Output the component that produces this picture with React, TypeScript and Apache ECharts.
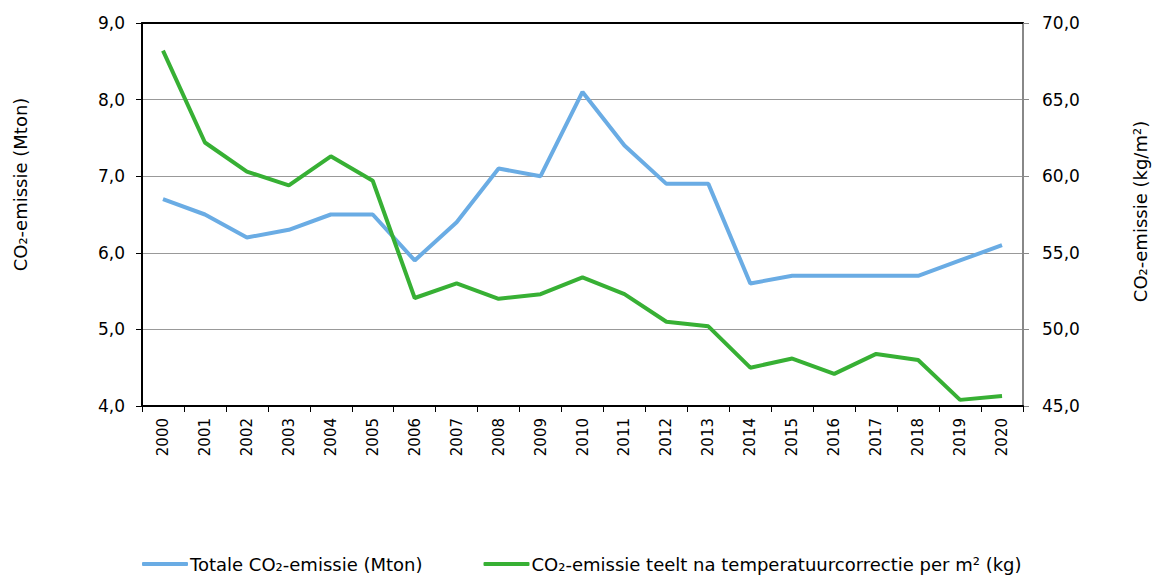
import React, { useEffect, useRef } from "react";
import * as echarts from "echarts";

const years = ["2000","2001","2002","2003","2004","2005","2006","2007","2008","2009","2010","2011","2012","2013","2014","2015","2016","2017","2018","2019","2020"];
const totalMton = [6.7, 6.5, 6.2, 6.3, 6.5, 6.5, 5.9, 6.4, 7.1, 7.0, 8.1, 7.4, 6.9, 6.9, 5.6, 5.7, 5.7, 5.7, 5.7, 5.9, 6.1];
const perM2 = [68.2, 62.2, 60.3, 59.4, 61.3, 59.7, 52.05, 53.0, 52.0, 52.3, 53.4, 52.3, 50.5, 50.2, 47.5, 48.1, 47.1, 48.4, 48.0, 45.4, 45.65];
const seriesNames = ["Totale CO₂-emissie (Mton)", "CO₂-emissie teelt na temperatuurcorrectie per m² (kg)"];
const leftAxisName = "CO₂-emissie (Mton)";
const rightAxisName = "CO₂-emissie (kg/m²)";

const FONT = "Verdana, 'DejaVu Sans', sans-serif";

export default function App() {
  const ref = useRef<HTMLDivElement>(null);
  useEffect(() => {
    if (!ref.current) return;
    document.body.style.margin = "0";
    const chart = echarts.init(ref.current, undefined, { renderer: "svg" });
    const fmt = (v: number) => v.toFixed(1).replace(".", ",");
    chart.setOption({
      animation: false,
      textStyle: { fontFamily: FONT },
      grid: { left: 142, right: 130, top: 23, bottom: 170, containLabel: false, outerBoundsMode: "none" },
      legend: {
        top: 555,
        left: 142,
        padding: 0,
        itemGap: 61,
        itemWidth: 46,
        itemHeight: 4,
        icon: "roundRect",
        textStyle: { fontFamily: FONT, fontSize: 18, color: "#000", padding: [0, 0, 0, -3] },
        data: seriesNames,
      },
      xAxis: [
        {
          type: "category",
          data: years,
          boundaryGap: true,
          axisLine: { lineStyle: { color: "#000", width: 2 } },
          axisTick: { show: true, alignWithLabel: false, length: 6, lineStyle: { color: "#000", width: 1 } },
          axisLabel: { rotate: 90, color: "#000", fontSize: 15, fontFamily: FONT, margin: 12, interval: 0 },
        },
        {
          type: "category",
          data: years,
          position: "top",
          axisLine: { lineStyle: { color: "#000", width: 2 } },
          axisTick: { show: false },
          axisLabel: { show: false },
        },
      ],
      yAxis: [
        {
          type: "value",
          min: 4,
          max: 9,
          interval: 1,
          name: leftAxisName,
          nameLocation: "middle",
          nameGap: 113,
          nameTextStyle: { color: "#000", fontSize: 18, fontFamily: FONT, padding: [0, 0, 0, 60] },
          axisLine: { show: true, lineStyle: { color: "#000", width: 2 } },
          axisTick: { show: true, length: 6, lineStyle: { color: "#000" } },
          axisLabel: { color: "#000", fontSize: 17, formatter: fmt, margin: 17 },
          splitLine: { lineStyle: { color: "#999", width: 1 } },
        },
        {
          type: "value",
          min: 45,
          max: 70,
          interval: 5,
          name: rightAxisName,
          nameLocation: "middle",
          nameGap: 108,
          nameRotate: 90,
          nameTextStyle: { color: "#000", fontSize: 18, fontFamily: FONT, padding: [0, 0, 0, 6] },
          axisLine: { show: true, lineStyle: { color: "#888", width: 2 } },
          axisTick: { show: true, length: 6, lineStyle: { color: "#888" } },
          axisLabel: { color: "#000", fontSize: 17, formatter: fmt, margin: 19 },
          splitLine: { show: false },
        },
      ],
      series: [
        {
          name: seriesNames[0],
          type: "line",
          data: totalMton,
          yAxisIndex: 0,
          showSymbol: false,
          symbol: "none",
          lineStyle: { color: "#6aace4", width: 4 },
          itemStyle: { color: "#6aace4" },
        },
        {
          name: seriesNames[1],
          type: "line",
          data: perM2,
          yAxisIndex: 1,
          showSymbol: false,
          symbol: "none",
          lineStyle: { color: "#37b034", width: 4 },
          itemStyle: { color: "#37b034" },
        },
      ],
    });
    return () => chart.dispose();
  }, []);
  return <div ref={ref} style={{ width: 1153, height: 576 }} />;
}
